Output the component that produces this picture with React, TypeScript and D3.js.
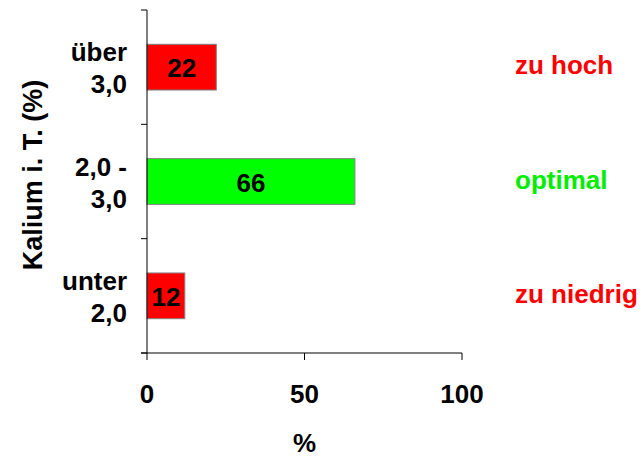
import React from "react";
import * as d3 from "d3";

const categories = [["über", "3,0"], ["2,0 -", "3,0"], ["unter", "2,0"]];
const values = [22, 66, 12];
const barColors = ["#FF0000", "#00FF00", "#FF0000"];
const ratings = ["zu hoch", "optimal", "zu niedrig"];
const ratingColors = ["#FF0000", "#00EE00", "#FF0000"];
const xTicks = [0, 50, 100];

const W = 643;
const H = 457;
const left = 147;
const right = 462;
const top = 10;
const bottom = 353;
const font = "'Liberation Sans', Arial, sans-serif";
const fs = 26;

export default function App() {
  const x = d3.scaleLinear().domain([0, 100]).range([left, right]);
  const y = d3
    .scaleBand<number>()
    .domain(d3.range(categories.length))
    .range([top, bottom])
    .paddingInner(0.6)
    .paddingOuter(0.3);
  const bandEdges = d3.range(categories.length + 1).map((i) => top + ((bottom - top) * i) / categories.length);

  return (
    <svg
      width={W}
      height={H}
      style={{ position: "absolute", left: 0, top: 0, fontFamily: font, fontWeight: "bold" }}
    >
      <rect width={W} height={H} fill="#fff" />
      {values.map((v, i) => {
        const y0 = y(i)!;
        const bh = y.bandwidth();
        const cy = y0 + bh / 2;
        return (
          <g key={i}>
            <rect
              x={x(0)}
              y={y0}
              width={x(v) - x(0)}
              height={bh}
              fill={barColors[i]}
              stroke="#808080"
              strokeWidth={1}
            />
            <text x={(x(0) + x(v)) / 2} y={cy + 10} textAnchor="middle" fontSize={fs} fill="#000">
              {v}
            </text>
            <text x={127} y={cy - 6} textAnchor="end" fontSize={fs} fill="#000">
              {categories[i][0]}
            </text>
            <text x={127} y={cy + 26} textAnchor="end" fontSize={fs} fill="#000">
              {categories[i][1]}
            </text>
            <text x={515} y={cy + 7} fontSize={fs} fill={ratingColors[i]}>
              {ratings[i]}
            </text>
          </g>
        );
      })}
      {/* value axis */}
      <line x1={141} x2={right} y1={bottom} y2={bottom} stroke="#000" />
      {xTicks.map((t) => (
        <g key={t}>
          <line x1={x(t)} x2={x(t)} y1={bottom} y2={bottom + 7} stroke="#000" />
          <text x={x(t)} y={403} textAnchor="middle" fontSize={fs} fill="#000">
            {t}
          </text>
        </g>
      ))}
      <text x={x(50)} y={452} textAnchor="middle" fontSize={fs} fill="#000">
        %
      </text>
      {/* category axis */}
      <line x1={left} x2={left} y1={top} y2={bottom} stroke="#000" />
      {bandEdges.map((e, i) => (
        <line key={i} x1={141} x2={left} y1={e} y2={e} stroke="#000" />
      ))}
      <text
        transform={`translate(42,175) rotate(-90)`}
        textAnchor="middle"
        fontSize={27}
        fill="#000"
      >
        Kalium i. T. (%)
      </text>
    </svg>
  );
}
